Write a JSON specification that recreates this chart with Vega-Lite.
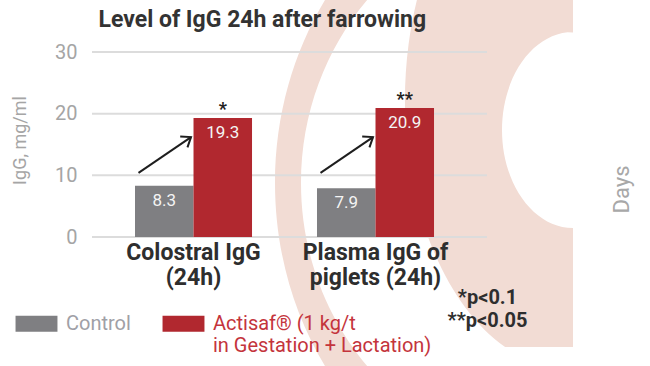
{
  "$schema": "https://vega.github.io/schema/vega-lite/v6.json",
  "width": 395,
  "height": 185,
  "autosize": {"type": "none"},
  "padding": {"left": 92, "top": 52, "right": 163, "bottom": 129},
  "background": "white",
  "config": {"view": {"stroke": null}, "font": "Roboto"},
  "datasets": {
    "bars": [
      {"group": "Colostral IgG|(24h)", "series": "Control", "value": 8.3, "label": "8.3", "sig": ""},
      {"group": "Colostral IgG|(24h)", "series": "Actisaf", "value": 19.3, "label": "19.3", "sig": "*"},
      {"group": "Plasma IgG of|piglets (24h)", "series": "Control", "value": 7.9, "label": "7.9", "sig": ""},
      {"group": "Plasma IgG of|piglets (24h)", "series": "Actisaf", "value": 20.9, "label": "20.9", "sig": "**"}
    ],
    "grid": [{"v": 0}, {"v": 10}, {"v": 20}, {"v": 30}],
    "arrows": [{"group": "Colostral IgG|(24h)"}, {"group": "Plasma IgG of|piglets (24h)"}],
    "deco": [{"k": "ring"}]
  },
  "resolve": {"axis": {"x": "independent", "y": "independent"}},
  "layer": [
    {
      "data": {"name": "deco"},
      "mark": {"type": "point", "shape": "M0,-330A298,330 0 0,0 0,330Z M0,280A272,280 0 0,1 0,-280Z", "size": 4, "filled": true, "fill": "#f2dcd4", "opacity": 1, "strokeWidth": 0, "xOffset": 197.5},
      "encoding": {
        "x": {"datum": "Plasma IgG of|piglets (24h)", "axis": null},
        "y": {"datum": 8.76, "axis": null}
      }
    },
    {
      "data": {"name": "deco"},
      "mark": {"type": "point", "shape": "M0,-270A168,270 0 0,0 -67.9,247L0,247Z M0,128A71,98 0 0,1 0,-68Z", "size": 4, "filled": true, "fill": "#f2dcd4", "opacity": 1, "strokeWidth": 0, "xOffset": 197.5},
      "encoding": {
        "x": {"datum": "Plasma IgG of|piglets (24h)", "axis": null},
        "y": {"datum": 22.2, "axis": null}
      }
    },
    {
      "data": {"name": "grid"},
      "mark": {"type": "rule", "color": "#dcdcdc", "strokeWidth": 2},
      "encoding": {
        "y": {
          "field": "v",
          "type": "quantitative",
          "axis": {
            "orient": "right",
            "labels": false,
            "ticks": false,
            "domain": false,
            "grid": false,
            "title": "Days",
            "titleAngle": 270,
            "titleBaseline": "top",
            "titlePadding": 124,
            "titleY": 137,
            "titleAlign": "center",
            "titleFontSize": 22,
            "titleFontWeight": "normal",
            "titleColor": "#a8a8a8",
            "zindex": 1
          }
        }
      }
    },
    {
      "data": {"name": "bars"},
      "mark": {"type": "bar"},
      "encoding": {
        "x": {
          "field": "group",
          "type": "nominal",
          "scale": {"domain": ["Colostral IgG|(24h)", "Plasma IgG of|piglets (24h)"], "paddingInner": 0.357, "paddingOuter": 0.2637, "align": 0.448},
          "axis": {
            "orient": "bottom",
            "labelExpr": "split(datum.label, '|')",
            "labelAngle": 0,
            "labelFontSize": 23,
            "labelFontWeight": "bold",
            "labelColor": "#2e2e2e",
            "labelLineHeight": 25,
            "labelPadding": 4,
            "labelBaseline": "top",
            "labelLimit": 0,
            "ticks": false,
            "domain": false,
            "grid": false,
            "title": ["*p<0.1", "**p<0.05"],
            "titleFontSize": 20,
            "titleFontWeight": "bold",
            "titleColor": "#2e2e2e",
            "titleX": 395,
            "titleY": 66,
            "titleAlign": "center",
            "titleBaseline": "alphabetic",
            "titleLineHeight": 23,
            "zindex": 1
          }
        },
        "xOffset": {"field": "series", "type": "nominal", "scale": {"domain": ["Control", "Actisaf"], "paddingInner": 0, "paddingOuter": 0}},
        "y": {
          "field": "value",
          "type": "quantitative",
          "scale": {"domain": [0, 30], "nice": false},
          "axis": {
            "orient": "left",
            "values": [0, 10, 20, 30],
            "ticks": false,
            "domain": false,
            "grid": false,
            "labelPadding": 15,
            "labelFontSize": 20,
            "labelColor": "#a5a5a5",
            "title": "IgG, mg/ml",
            "titleFontSize": 18,
            "titleFontWeight": "normal",
            "titleColor": "#a5a5a5",
            "titlePadding": 25,
            "titleY": 88
          }
        },
        "color": {
          "field": "series",
          "type": "nominal",
          "scale": {"domain": ["Control", "Actisaf"], "range": ["#7f7f82", "#b1282f"]},
          "legend": {
            "orient": "none",
            "legendX": -72,
            "legendY": 255,
            "direction": "horizontal",
            "title": null,
            "symbolType": "M-1.3,-0.5H1.3V0.5H-1.3Z",
            "symbolSize": 1040,
            "symbolStrokeWidth": 0,
            "symbolOpacity": 1,
            "labelFontSize": 20,
            "labelOffset": 13,
            "columnPadding": 31,
            "labelLimit": 0,
            "padding": 0,
            "labelExpr": "datum.value == 'Actisaf' ? ['Actisaf® (1 kg/t', 'in Gestation + Lactation)'] : ['Control', '']",
            "labelColor": {"expr": "datum.value == 'Control' ? '#a0a0a6' : '#c4343c'"},
            "zindex": 1
          }
        }
      }
    },
    {
      "data": {"name": "bars"},
      "mark": {"type": "text", "baseline": "middle", "dy": 15, "fontSize": 17, "color": "#f4f4f4"},
      "encoding": {
        "x": {"field": "group", "type": "nominal", "axis": null},
        "xOffset": {"field": "series", "type": "nominal"},
        "y": {"field": "value", "type": "quantitative", "axis": null},
        "text": {"field": "label"}
      }
    },
    {
      "data": {"name": "bars"},
      "mark": {"type": "text", "baseline": "alphabetic", "dy": -3, "fontSize": 18, "fontWeight": "bold", "color": "#222222"},
      "encoding": {
        "x": {"field": "group", "type": "nominal", "axis": null},
        "xOffset": {"field": "series", "type": "nominal"},
        "y": {"field": "value", "type": "quantitative", "axis": null},
        "text": {"field": "sig"}
      }
    },
    {
      "data": {"name": "arrows"},
      "mark": {"type": "rule", "xOffset": -55, "x2Offset": -2.5, "strokeWidth": 2, "color": "#1e1e1e"},
      "encoding": {
        "x": {
          "field": "group",
          "type": "nominal",
          "axis": {
            "orient": "top",
            "labels": false,
            "ticks": false,
            "domain": false,
            "grid": false,
            "title": "Level of IgG 24h after farrowing",
            "titleX": 6,
            "titleY": -26,
            "titleAlign": "left",
            "titleAnchor": "start",
            "titleBaseline": "alphabetic",
            "titleFontSize": 23,
            "titleFontWeight": "bold",
            "titleColor": "#333333",
            "zindex": 1
          }
        },
        "x2": {"field": "group"},
        "y": {"datum": 10.4, "axis": null},
        "y2": {"datum": 16.2}
      }
    },
    {
      "data": {"name": "arrows"},
      "mark": {"type": "point", "shape": "M-1,-0.75L0,0L-1,0.75", "size": 300, "filled": false, "stroke": "#1e1e1e", "strokeWidth": 2, "angle": 326, "xOffset": -2.5, "opacity": 1},
      "encoding": {
        "x": {"field": "group", "type": "nominal", "axis": null},
        "y": {"datum": 16.2, "axis": null}
      }
    }
  ]
}
